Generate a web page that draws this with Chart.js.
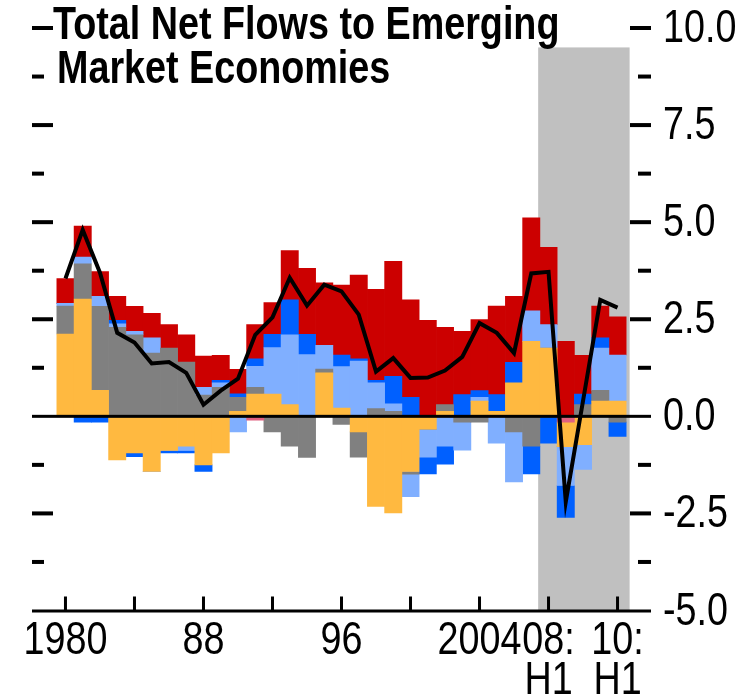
<!DOCTYPE html>
<html>
<head>
<meta charset="utf-8">
<script src="https://cdn.jsdelivr.net/npm/chart.js@4/dist/chart.umd.min.js"></script>
<style>
  body { margin: 0; background: #fff; }
  canvas { display: block; }
</style>
</head>
<body>
<canvas id="flowsChart" width="749" height="699"></canvas>
<script>
const periods = ['1980','1981','1982','1983','1984','1985','1986','1987','1988','1989',
  '1990','1991','1992','1993','1994','1995','1996','1997','1998','1999',
  '2000','2001','2002','2003','2004','2005','2006','2007',
  '2008:H1','2008:H2','2009:H1','2009:H2','2010:H1'];

const pinkVals   = [0,0,0,0,0,0,0,0,0,0, 0,-0.10,0,0,0,0,0,0,0,0, 0,0,0,0,0,0,0,0, 0,-0.15,0,0,0];
const orangeVals = [2.12,3.02,0.67,-1.12,-0.94,-1.42,-0.88,-0.77,-1.25,-0.94,
  0.13,0.57,0.57,0.30,0,1.12,0.21,-0.40,-2.32,-2.49,
  -1.42,-0.33,0.13,0,0.39,0.13,0.86,1.93, 1.76,-0.63,-0.73,0.39,0.39];
const grayVals   = [0.72,0.91,2.16,2.29,2.10,1.63,1.76,1.40,0.55,0.75,
  0.36,0.18,-0.40,-0.77,-1.06,0.10,-0.21,-0.65,0.20,0.13,
  -0.07,0,0.17,-0.15,-0.15,0,-0.40,-0.77, 0,0,0.30,0.28,-0.15];
const lightBlueVals = [0.07,0.17,0.26,0.09,0.09,0.39,0,-0.11,0.20,0.11,
  -0.40,0.54,1.20,1.80,1.59,0.61,1.07,1.42,0.66,0.19,
  -0.58,-0.72,-0.77,-0.72,0.10,-0.69,-1.29,0.79, 0.60,-1.00,-0.64,1.09,1.19];
const blueVals   = [0,-0.15,-0.15,0.09,-0.10,0,-0.06,-0.06,-0.17,0.07,
  0.09,0.19,0.34,0.90,0.52,0,0.30,0.06,0.07,0.71,
  0.49,-0.43,-0.46,0.56,0.17,0.43,0.53,-0.71, -0.69,-0.82,0.27,0.26,-0.37];
const redVals    = [0.64,0.80,0.64,0.62,0.64,0.63,0.60,0.70,0.80,0.64,
  0.63,0.88,0.82,1.27,1.70,1.61,1.80,2.16,2.34,2.96,
  2.51,2.47,1.99,1.63,1.83,2.28,1.70,2.39, 1.99,1.93,1.00,0.82,0.98];
const totalVals  = [3.55,4.80,3.70,2.15,1.90,1.36,1.40,1.12,0.30,0.66,
  0.97,2.10,2.55,3.57,2.85,3.39,3.22,2.62,1.15,1.50,
  0.99,1.00,1.18,1.53,2.40,2.15,1.63,3.68, 3.72,-2.20,0.40,3.00,2.80];

const xTicks = [0, 8, 16, 24, 28, 32];
const xTickLabels = [['1980'], ['88'], ['96'], ['2004'], ['08:', 'H1'], ['10:', 'H1']];
const xMarks = [0, 4, 8, 12, 16, 20, 24, 28, 32];
const yLabelTicks = [10, 7.5, 5, 2.5, 0, -2.5, -5];
const titleLines = ['Total Net Flows to Emerging', 'Market Economies'];
const shadeFrom = 27.4, shadeTo = 32.7, shadeTop = 9.5;

const FONT = '"Liberation Sans", Arial, sans-serif';
const NARROW = 0.82;

const pts = vals => vals.map((v, i) => ({ x: i, y: v }));

function barSet(label, vals, color) {
  return { type: 'bar', label, data: pts(vals), backgroundColor: color, borderWidth: 0,
           barPercentage: 1, categoryPercentage: 1, order: 1, stack: 'flows' };
}

// condensed text: regular font squeezed horizontally
function narrowText(ctx, text, x, y, align) {
  ctx.save();
  ctx.translate(x, y);
  ctx.scale(NARROW, 1);
  ctx.textAlign = align;
  ctx.textBaseline = 'alphabetic';
  ctx.fillText(text, 0, 0);
  ctx.restore();
}

const framePlugin = {
  id: 'frame',
  beforeDatasetsDraw(chart) {
    const { ctx, scales: { x, y } } = chart;
    ctx.save();
    ctx.fillStyle = '#C0C0C0';
    const l = x.getPixelForValue(shadeFrom), r = x.getPixelForValue(shadeTo);
    const t = y.getPixelForValue(shadeTop), b = y.getPixelForValue(-5);
    ctx.fillRect(l, t, r - l, b - t);
    ctx.restore();
  },
  afterDatasetsDraw(chart) {
    const { ctx, chartArea: a, scales: { x, y } } = chart;
    ctx.save();
    ctx.fillStyle = '#000';
    // zero line and bottom axis
    const y0 = y.getPixelForValue(0);
    ctx.fillRect(a.left, y0 - 1.5, a.right - a.left, 3);
    ctx.fillRect(a.left, a.bottom - 1, a.right - a.left, 3);
    // dashes on both sides
    for (let v = -3.75; v <= 10; v += 1.25) {
      if (Math.abs(v) < 1e-9) continue;
      const py = y.getPixelForValue(v);
      const major = Math.abs(v % 2.5) < 1e-9;
      ctx.fillRect(a.left, py - 2, major ? 21 : 12, 4);
      const len = major ? 21 : 13;
      ctx.fillRect(a.right - len, py - 2, len, 4);
    }
    // x tick marks pointing up
    xMarks.forEach(v => {
      const px = x.getPixelForValue(v);
      ctx.fillRect(px - 1.5, a.bottom - 14, 3, 14);
    });

    // y labels on the right
    ctx.font = '46px ' + FONT;
    yLabelTicks.forEach(v => {
      narrowText(ctx, v.toFixed(1), a.right + 12, y.getPixelForValue(v) + 14, 'left');
    });
    // x labels
    xTicks.forEach((v, i) => {
      const px = x.getPixelForValue(v);
      xTickLabels[i].forEach((line, j) => {
        narrowText(ctx, line, px, a.bottom + 43 + j * 40, 'center');
      });
    });
    // title
    ctx.font = 'bold 46px ' + FONT;
    narrowText(ctx, titleLines[0], 53, 39, 'left');
    narrowText(ctx, titleLines[1], 57, 83, 'left');
    ctx.restore();
  }
};

new Chart(document.getElementById('flowsChart'), {
  data: {
    datasets: [
      { type: 'line', label: 'Total', data: pts(totalVals), borderColor: '#000', borderWidth: 4,
        pointRadius: 0, tension: 0, fill: false, order: 0, stack: 'total' },
      barSet('Pink', pinkVals, '#E06080'),
      barSet('Orange', orangeVals, '#FFB940'),
      barSet('Gray', grayVals, '#808080'),
      barSet('Light blue', lightBlueVals, '#80AFFF'),
      barSet('Blue', blueVals, '#0060FF'),
      barSet('Red', redVals, '#CC0000')
    ]
  },
  options: {
    responsive: false,
    animation: false,
    devicePixelRatio: 1,
    layout: { padding: { left: 32, top: 28, right: 0, bottom: 0 } },
    plugins: { legend: { display: false }, tooltip: { enabled: false }, title: { display: false } },
    scales: {
      x: {
        type: 'linear', min: -1.94, max: 33.94, offset: false, stacked: true,
        grid: { display: false, drawTicks: false }, border: { display: false },
        ticks: { display: false },
        afterFit: s => { s.height = 88.5; }
      },
      y: {
        position: 'right', min: -5, max: 10, stacked: true,
        grid: { display: false, drawTicks: false }, border: { display: false },
        ticks: { display: false, stepSize: 1.25 },
        afterFit: s => { s.width = 98; }
      }
    }
  },
  plugins: [framePlugin]
});
</script>
</body>
</html>
